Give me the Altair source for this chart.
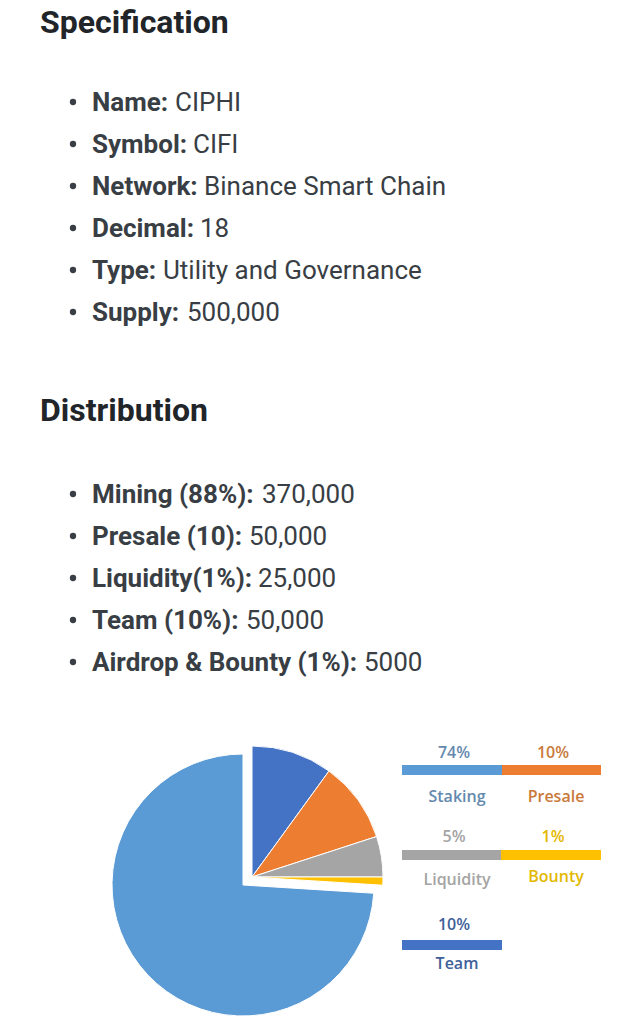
import altair as alt
import pandas as pd

# ---------------- data ----------------
spec_title = "Specification"
spec_labels = ["Name:", "Symbol:", "Network:", "Decimal:", "Type:", "Supply:"]
spec_values = ["CIPHI", "CIFI", "Binance Smart Chain", "18", "Utility and Governance", "500,000"]

dist_title = "Distribution"
dist_labels = ["Mining (88%):", "Presale (10):", "Liquidity(1%):", "Team (10%):", "Airdrop & Bounty (1%):"]
dist_values = ["370,000", "50,000", "25,000", "50,000", "5000"]

pie_categories = ["Team", "Presale", "Liquidity", "Bounty", "Staking"]
pie_shares = [10, 10, 5, 1, 74]
pie_colors = ["#4472c4", "#ed7d31", "#a5a5a5", "#ffc000", "#5b9bd5"]
legend_text_colors = ["#3f609a", "#c97a3c", "#a4a4a4", "#e3b800", "#6489ad"]

# ---------------- layout (pixel positions, not data) ----------------
OFF = 8
W, H = 624, 1012
HEAD_COLOR = "#212529"
BODY_COLOR = "#383e44"
FONT = "Roboto"
HEAD_SIZE = 32
BODY_SIZE = 26

spec_baselines = [111, 153, 195, 237, 279, 321]
spec_value_x = [175, 193, 204, 200, 163, 187]
dist_baselines = [503, 545, 587, 629, 671]
dist_value_x = [262, 249, 258, 246, 364]

base = alt.Chart(pd.DataFrame({"k": [0]}))
layers = []


def txt(s, x, y, size, weight, color, align="left", baseline="alphabetic", font=FONT):
    return base.mark_text(
        text=s, align=align, baseline=baseline, font=font, fontSize=size,
        fontWeight=weight, color=color
    ).encode(x=alt.value(x - OFF), y=alt.value(y - OFF))


def bullet(y):
    return base.mark_circle(size=40, color=BODY_COLOR, opacity=1).encode(
        x=alt.value(73 - OFF), y=alt.value(y - OFF)
    )


layers.append(txt(spec_title, 40, 33, HEAD_SIZE, "bold", HEAD_COLOR))
for lab, val, yb, vx in zip(spec_labels, spec_values, spec_baselines, spec_value_x):
    layers.append(bullet(yb - 9))
    layers.append(txt(lab, 92, yb, BODY_SIZE, "bold", BODY_COLOR))
    layers.append(txt(val, vx, yb, BODY_SIZE, "normal", BODY_COLOR))

layers.append(txt(dist_title, 40, 421, HEAD_SIZE, "bold", HEAD_COLOR))
for lab, val, yb, vx in zip(dist_labels, dist_values, dist_baselines, dist_value_x):
    layers.append(bullet(yb - 9))
    layers.append(txt(lab, 92, yb, BODY_SIZE, "bold", BODY_COLOR))
    layers.append(txt(val, vx, yb, BODY_SIZE, "normal", BODY_COLOR))

# ---------------- pie ----------------
pie_df = pd.DataFrame({
    "category": pie_categories,
    "share": pie_shares,
    "order": list(range(len(pie_categories))),
})
pie_base = (
    alt.Chart(pie_df)
    .transform_window(end="sum(share)", sort=[alt.SortField("order")], frame=[None, 0])
    .transform_calculate(start="datum.end - datum.share")
)
color_scale = alt.Scale(domain=pie_categories, range=pie_colors)
theta_scale = alt.Scale(domain=[0, 100])
R = 131

rest = pie_base.transform_filter("datum.category != 'Staking'").mark_arc(
    radius=R, stroke="white", strokeWidth=1
).encode(
    theta=alt.Theta("start:Q", scale=theta_scale),
    theta2="end:Q",
    color=alt.Color("category:N", scale=color_scale, legend=None),
    x=alt.value(252 - OFF), y=alt.value(877 - OFF),
)
staking = pie_base.transform_filter("datum.category == 'Staking'").mark_arc(
    radius=R, stroke="white", strokeWidth=1
).encode(
    theta=alt.Theta("start:Q", scale=theta_scale),
    theta2="end:Q",
    color=alt.Color("category:N", scale=color_scale, legend=None),
    x=alt.value(243 - OFF), y=alt.value(885 - OFF),
)
layers += [staking, rest]

# ---------------- custom legend ----------------
# slot per category: (bar x0, bar y0, pct baseline, label baseline)
slots = {
    "Staking": (402, 765, 758, 802),
    "Presale": (501, 765, 758, 802),
    "Liquidity": (402, 850, 842, 885),
    "Bounty": (501, 850, 842, 882),
    "Team": (402, 940, 930, 969),
}
LEG_FONT = "Open Sans"
for cat, share, col, tcol in zip(pie_categories, pie_shares, pie_colors, legend_text_colors):
    bx, by, py, ly = slots[cat]
    layers.append(
        base.mark_rect(color=col).encode(
            x=alt.value(bx - OFF), x2=alt.value(bx + 100 - OFF),
            y=alt.value(by - OFF), y2=alt.value(by + 10 - OFF),
        )
    )
    layers.append(txt(f"{share}%", bx + 52, py, 16, 600, tcol, align="center", font=LEG_FONT))
    layers.append(txt(cat, bx + 55, ly, 16, 600, tcol, align="center", font=LEG_FONT))

chart = alt.layer(*layers).properties(
    width=W, height=H, padding=0, autosize=alt.AutoSizeParams(type="none")
).configure_view(stroke=None)

chart.save("out.html", embed_options={"renderer": "svg", "actions": False})
